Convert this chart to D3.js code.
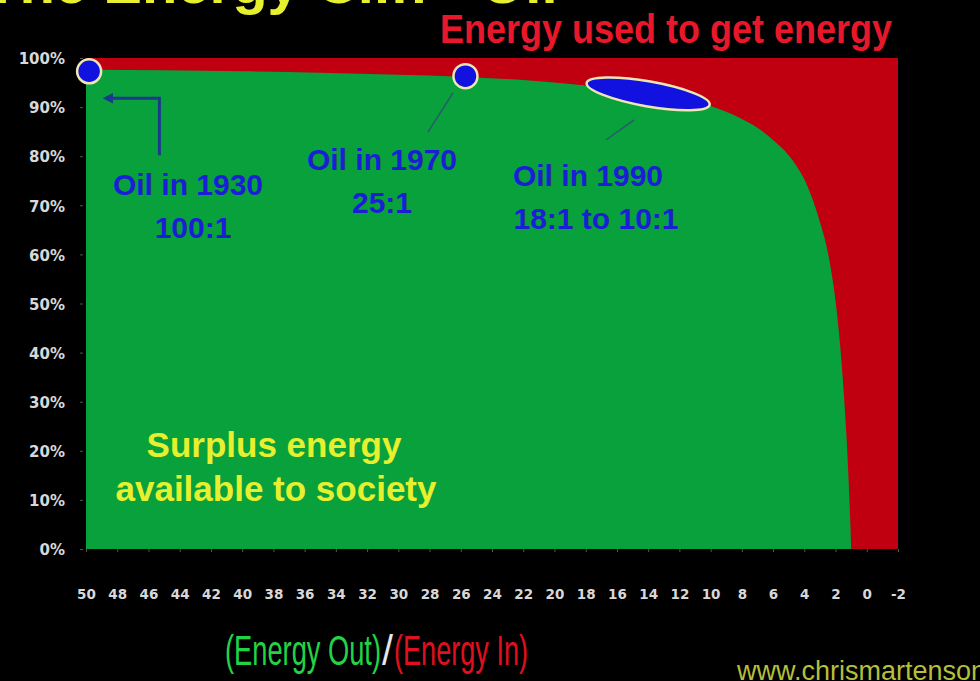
<!DOCTYPE html>
<html><head><meta charset="utf-8">
<script src="https://cdn.jsdelivr.net/npm/d3@7"></script>
<style>html,body{margin:0;padding:0;background:#000;} svg{display:block;}</style>
</head><body>
<script>
// ---- data ----
const eroi    = [50, 45, 40, 35, 30, 26, 22, 18, 15, 12, 10, 8, 7, 6, 5, 4.5, 4, 3.5, 3, 2.5, 2, 1.75, 1.5, 1.3, 1.15, 1.05, 1];
const surplus = [97.6, 97.5, 97.3, 97.0, 96.6, 96.2, 95.5, 94.4, 93.3, 91.7, 90.2, 87.6, 85.8, 83.3, 80.2, 78, 75.3, 71.5, 66.6, 60.5, 50.5, 43, 33, 23, 13, 5, 0];
const xTicks = d3.range(50, -3, -2);
const yTicks = [0, 10, 20, 30, 40, 50, 60, 70, 80, 90, 100];
const oilDots = [{year: "1930", eroi: 49.8, pct: 97.3}, {year: "1970", eroi: 25.7, pct: 96.3}];
const oil1990 = {from: 18, to: 10, pct: 92.7};

const W = 980, H = 681;
const svg = d3.select("body").append("svg").attr("width", W).attr("height", H).style("background", "#000");
const x = d3.scaleLinear().domain([50, -2]).range([86, 898]);
const y = d3.scaleLinear().domain([0, 100]).range([549, 58]);

// red: energy used to get energy (full range)
const redArea = d3.area().x(d => x(d)).y0(y(0)).y1(y(100));
svg.append("path").datum([50, -2]).attr("d", redArea).attr("fill", "#c00010");

// green: surplus energy
const pts = eroi.map((e, i) => ({e, s: surplus[i]}));
const greenArea = d3.area().x(d => x(d.e)).y0(y(0)).y1(d => y(d.s)).curve(d3.curveMonotoneX);
svg.append("path").datum(pts).attr("d", greenArea).attr("fill", "#08a13b");

// axes
const fontAxis = "'DejaVu Sans', Verdana, sans-serif";
const gx = svg.append("g").attr("transform", `translate(0,${y(0)})`)
  .call(d3.axisBottom(x).tickValues(xTicks).tickSize(3).tickFormat(d => String(d)));
gx.select(".domain").remove();
gx.selectAll("line").attr("stroke", "#555");
gx.selectAll("text").attr("y", 50).attr("dy", "0").attr("fill", "#d8d8d8")
  .style("font-family", fontAxis).style("font-weight", "bold").style("font-size", "13.5px");

const gy = svg.append("g").attr("transform", `translate(83,0)`)
  .call(d3.axisLeft(y).tickValues(yTicks).tickSize(3).tickFormat(d => d + "%"));
gy.select(".domain").remove();
gy.selectAll("line").attr("stroke", "#555");
gy.selectAll("text").attr("x", -18).attr("dy", "0.38em").attr("fill", "#d8d8d8")
  .style("font-family", fontAxis).style("font-weight", "bold").style("font-size", "15px");

// markers
const defs = svg.append("defs");
defs.append("marker").attr("id", "arr").attr("viewBox", "0 0 10 10").attr("refX", 5).attr("refY", 5)
  .attr("markerWidth", 3.5).attr("markerHeight", 3.5).attr("orient", "auto-start-reverse")
  .append("path").attr("d", "M0,0L10,5L0,10z").attr("fill", "#1b3a8e");

// 1930 arrow
const line = d3.line().x(d => x(d[0])).y(d => y(d[1]));
svg.append("path").datum([[45.3, 80.2], [45.3, 91.8], [48.6, 91.8]]).attr("d", line)
  .attr("fill", "none").attr("stroke", "#1b3a8e").attr("stroke-width", 3).attr("marker-end", "url(#arr)");
// 1970 pointer
svg.append("path").datum([[26.5, 92.9], [28.1, 84.9]]).attr("d", line)
  .attr("fill", "none").attr("stroke", "#2a5a70").attr("stroke-width", 1.5);
// 1990 pointer
svg.append("path").datum([[14.9, 87.4], [16.7, 83.3]]).attr("d", line)
  .attr("fill", "none").attr("stroke", "#2a5a70").attr("stroke-width", 1.5);

// dots
svg.selectAll("circle.oil").data(oilDots).join("circle").attr("class", "oil")
  .attr("cx", d => x(d.eroi)).attr("cy", d => y(d.pct)).attr("r", 12)
  .attr("fill", "#1212e0").attr("stroke", "#efe6b4").attr("stroke-width", 2.5);
// 1990 ellipse
const ex = (x(oil1990.from) + x(oil1990.to)) / 2, ey = y(oil1990.pct);
svg.append("ellipse").attr("cx", ex).attr("cy", ey)
  .attr("rx", (x(oil1990.to) - x(oil1990.from)) / 2).attr("ry", 12.5)
  .attr("transform", `rotate(10,${ex},${ey})`)
  .attr("fill", "#1212e0").attr("stroke", "#efe6b4").attr("stroke-width", 2.5);

// texts
const sans = "'Liberation Sans', Arial, sans-serif";
function txt(str, tx, ty, opts) {
  const t = svg.append("text").attr("x", tx).attr("y", ty).text(str)
    .style("font-family", sans).style("font-weight", opts.weight || "bold")
    .style("font-size", opts.size + "px").attr("fill", opts.fill)
    .attr("text-anchor", opts.anchor || "start");
  if (opts.len) t.attr("textLength", opts.len).attr("lengthAdjust", "spacingAndGlyphs");
  return t;
}
const blue = "#1a1ed4";
txt("Oil in 1930", 188, 195, {size: 30, fill: blue, anchor: "middle"});
txt("100:1", 193, 238, {size: 30, fill: blue, anchor: "middle"});
txt("Oil in 1970", 382, 170, {size: 30, fill: blue, anchor: "middle"});
txt("25:1", 382, 213, {size: 30, fill: blue, anchor: "middle"});
txt("Oil in 1990", 588, 186, {size: 30, fill: blue, anchor: "middle"});
txt("18:1 to 10:1", 596, 229, {size: 30, fill: blue, anchor: "middle"});

const yellow = "#e6f02e";
txt("Surplus energy", 274, 457, {size: 35, fill: yellow, anchor: "middle"});
txt("available to society", 276, 501, {size: 35, fill: yellow, anchor: "middle"});

txt("The Energy Cliff - Oil", -16, 3, {size: 58, fill: yellow});
txt("Energy used to get energy", 440, 43, {size: 40, fill: "#e8182a", len: 452});

// x-axis title as one text with three coloured parts
const xt = svg.append("text").attr("y", 665)
  .style("font-family", sans).style("font-size", "43px");
[["(Energy Out)", 225, 156, "#22d445"], ["/", 382, 11, "#e8e8e8"], ["(Energy In)", 394, 134, "#e0101e"]]
  .forEach(([s, px, len, col]) => {
    xt.append("tspan").attr("x", px).attr("fill", col).attr("textLength", len)
      .attr("lengthAdjust", "spacingAndGlyphs").text(s);
  });
txt("www.chrismartenson.com", 737, 680, {size: 27, weight: "normal", fill: "#b4bf3a"});
</script>
</body></html>
